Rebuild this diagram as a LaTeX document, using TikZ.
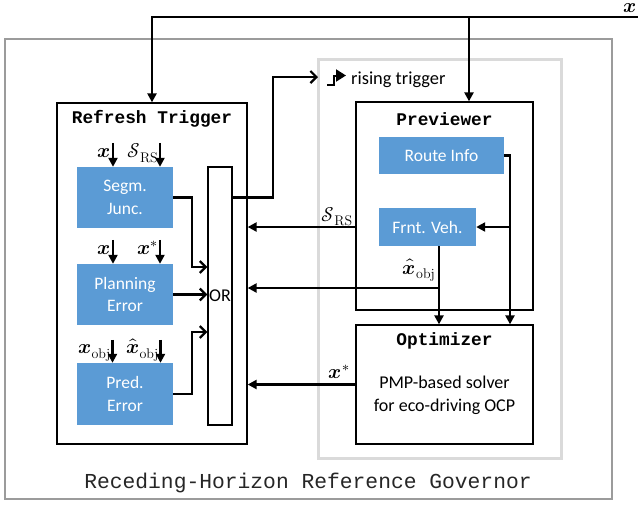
\documentclass[tikz,border=0pt]{standalone}
\usepackage{amsmath}
\usepackage{fontspec}
\usepackage{unicode-math}
\setmathfont{Latin Modern Math}
\newfontfamily\calib{Carlito}
\newfontfamily\mono{Liberation Mono}
\usetikzlibrary{arrows.meta,calc}
\definecolor{blockblue}{RGB}{91,155,213}
\definecolor{outergray}{RGB}{155,155,155}
\definecolor{innergray}{RGB}{218,218,218}
\newcommand{\vx}{\symbfit{x}}
\tikzset{
  box/.style={draw, line width=1.3pt, inner sep=0pt},
  blk/.style={fill=blockblue, text=white, inner sep=0pt, align=center,
    font=\calib\fontsize{17.5}{22.5}\selectfont},
  ttl/.style={inner sep=0pt, font=\mono\bfseries\fontsize{17.8}{20}\selectfont},
  lbl/.style={inner sep=0.5pt, font=\fontsize{20}{24}\selectfont},
  txt/.style={inner sep=0pt, align=center, font=\calib\fontsize{18}{23}\selectfont},
  arrf/.style={line width=2.4pt, -{Triangle[length=9pt,width=9pt]}},
  arro/.style={line width=2.4pt, -{Straight Barb[length=6pt,width=12pt,line width=2.2pt]}},
}
\begin{document}
\begin{tikzpicture}[x=1pt,y=-1pt]
\useasboundingbox (0,0) rectangle (638,504);

% frames
\node[draw=outergray, line width=1.3pt, minimum width=607pt, minimum height=460pt] (rhrg) at (308.5,269) {};
\node[draw=innergray, line width=3pt, minimum width=243pt, minimum height=399pt] (inner) at (439.5,258.5) {};
\node[font=\mono\fontsize{21.3}{24}\selectfont, text=black!85, inner sep=0pt] (cap) at (308,483) {Receding-Horizon Reference Governor};

% refresh trigger block
\node[box, minimum width=190pt, minimum height=341pt] (rt) at (152,273.5) {};
\node[ttl] (rttitle) at (152,119) {Refresh Trigger};
\node[blk, minimum width=96pt, minimum height=61pt] (segm) at (125,197.5) {Segm.\\Junc.};
\node[blk, minimum width=96pt, minimum height=61pt] (plan) at (125,294.5) {Planning\\Error};
\node[blk, minimum width=96pt, minimum height=62pt] (pred) at (125,394) {Pred.\\Error};
\node[box, minimum width=24pt, minimum height=258pt, font=\calib\fontsize{18}{22}\selectfont] (or) at (220,296) {OR};

% previewer and optimizer
\node[box, minimum width=177pt, minimum height=208pt] (prev) at (444.5,206) {};
\node[ttl] (prevtitle) at (444.5,119) {Previewer};
\node[blk, minimum width=125pt, minimum height=37pt] (route) at (441.5,155.5) {Route Info};
\node[blk, minimum width=97pt, minimum height=38pt] (frnt) at (427.5,227) {Frnt. Veh.};
\node[box, minimum width=177pt, minimum height=119pt] (opt) at (444.5,384.5) {};
\node[ttl] (opttitle) at (444.5,341) {Optimizer};
\node[txt] (opttext) at (444.5,395) {PMP-based solver\\for eco-driving OCP};

% measured state input
\coordinate (xin) at (638,17);
\node[lbl, anchor=base east, inner sep=0pt] (xlbl) at (636.5,12.5) {$\vx$};
\draw[arrf] (xin) -| (rt.north);
\draw[arrf] ([xshift=24.5pt]prev.north |- xin) -- ([xshift=24.5pt]prev.north);

% inputs of the trigger conditions
\draw[arrf] ([xshift=-12pt,yshift=24pt]segm.north) coordinate (s1) -- ([xshift=-12pt]segm.north);
\draw[arrf] ([xshift=35pt,yshift=24pt]segm.north) coordinate (s2) -- ([xshift=35pt]segm.north);
\node[lbl, anchor=base east] at ([xshift=-2pt,yshift=-15pt]s1) {$\vx$};
\node[lbl, anchor=base east] at ([xshift=-1pt,yshift=-15pt]s2) {$\mathcal{S}_{\mathrm{RS}}$};

\draw[arrf] ([xshift=-12pt,yshift=24pt]plan.north) coordinate (p1) -- ([xshift=-12pt]plan.north);
\draw[arrf] ([xshift=35pt,yshift=24pt]plan.north) coordinate (p2) -- ([xshift=35pt]plan.north);
\node[lbl, anchor=base east] at ([xshift=-2pt,yshift=-15pt]p1) {$\vx$};
\node[lbl, anchor=base east] at ([xshift=-1pt,yshift=-15pt]p2) {$\vx^{*}$};

\draw[arrf] ([xshift=-12.5pt,yshift=23pt]pred.north) coordinate (q1) -- ([xshift=-12.5pt]pred.north);
\draw[arrf] ([xshift=35.5pt,yshift=23pt]pred.north) coordinate (q2) -- ([xshift=35.5pt]pred.north);
\node[lbl, anchor=base east] at ([xshift=-1pt,yshift=-14pt]q1) {$\vx_{\mathrm{obj}}$};
\node[lbl, anchor=base east] at ([xshift=-1pt,yshift=-14pt]q2) {$\hat{\vx}_{\mathrm{obj}}$};

% conditions into the OR gate
\draw[arro] (segm.east) -- ++(19,0) |- ([yshift=29pt]or.west);
\draw[arro] (plan.east) -- (plan.east -| or.west);
\draw[arro] (pred.east) -- ++(19,0) |- ([yshift=-36pt]or.west);

% OR output to the rising-edge trigger
\coordinate (bend) at (273,77);
\coordinate (trig) at (318,77);
\draw[arro] (or.east |- segm.east) -| (bend) -- (trig);
% rising-edge symbol
\draw[line width=2pt, -{Triangle[length=10pt,width=12pt]}]
  (327,85) -- (334,85) -- (334,75.5) -- (346,75.5);
\node[txt, anchor=base west, font=\calib\fontsize{18.4}{22}\selectfont] (rise) at (351,84) {rising trigger};

% previewer internals
\coordinate (rb) at (510,227);
\draw[arrf] (route.east) -| (rb |- opt.north);
\draw[arrf] (rb) -- (frnt.east);
\coordinate (fb) at (439,288);
\draw[arrf] ([xshift=11.5pt]frnt.south) -- ([xshift=11.5pt]frnt.south |- opt.north);

% feedback to the refresh trigger
\draw[arrf] (prev.west |- frnt.east) -- (rt.east |- frnt.east);
\node[lbl, anchor=base east] at ([xshift=-2pt,yshift=6pt]prev.west |- frnt.east) {$\mathcal{S}_{\mathrm{RS}}$};
\draw[arrf] (fb) -- (fb -| rt.east);
\node[lbl, anchor=base east] at ([xshift=-3pt,yshift=14pt]fb) {$\hat{\vx}_{\mathrm{obj}}$};
\draw[arrf] (opt.west) -- (opt.west -| rt.east);
\node[lbl, anchor=base east] at ([xshift=-5pt,yshift=6pt]opt.west) {$\vx^{*}$};
\end{tikzpicture}
\end{document}
